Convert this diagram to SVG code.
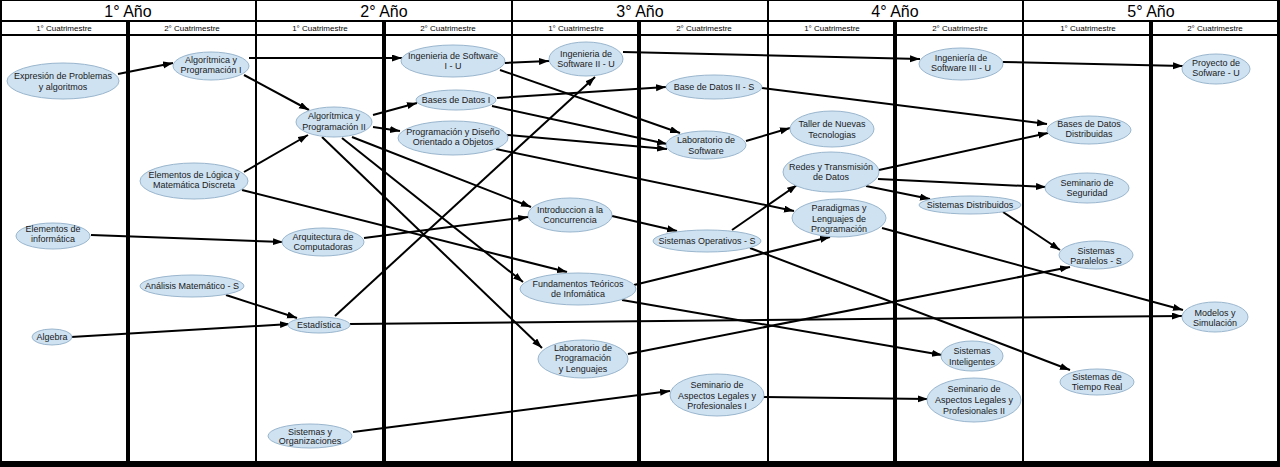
<svg xmlns="http://www.w3.org/2000/svg" width="1280" height="467" viewBox="0 0 1280 467">
<defs>
<marker id="arr" markerUnits="userSpaceOnUse" markerWidth="11" markerHeight="8" refX="10" refY="3.5" orient="auto">
<path d="M0,0 L10,3.5 L0,7 z" fill="#000"/>
</marker>
<style>
.grid{stroke:#000;fill:none}
.yr{font-family:"Liberation Sans",Arial,sans-serif;font-size:16px;fill:#000;text-anchor:middle}
.sem{font-family:"Liberation Sans",Arial,sans-serif;font-size:8px;fill:#000;text-anchor:middle}
.node ellipse{fill:#cfe2f2;stroke:#9ab6cd;stroke-width:1}
.node text{font-family:"Liberation Sans",Arial,sans-serif;font-size:9px;fill:#1a1a1a;text-anchor:middle}
#connectors line{stroke:#000;stroke-width:2;marker-end:url(#arr)}
</style>
</defs>
<rect x="0" y="0" width="1280" height="467" fill="#fff"/>
<g id="grid" class="grid">
<line x1="0" y1="0.5" x2="1280" y2="0.5" stroke-width="1"/>
<line x1="0" y1="21" x2="1280" y2="21" stroke-width="2"/>
<line x1="0" y1="35" x2="1280" y2="35" stroke-width="2"/>
<line x1="1" y1="0" x2="1" y2="462" stroke-width="2"/>
<line x1="256" y1="0" x2="256" y2="462" stroke-width="2"/>
<line x1="512" y1="0" x2="512" y2="462" stroke-width="2"/>
<line x1="768" y1="0" x2="768" y2="462" stroke-width="2"/>
<line x1="1023" y1="0" x2="1023" y2="462" stroke-width="2"/>
<line x1="1278.5" y1="0" x2="1278.5" y2="462" stroke-width="3"/>
<line x1="128" y1="21" x2="128" y2="462" stroke-width="4"/>
<line x1="384" y1="21" x2="384" y2="462" stroke-width="4"/>
<line x1="639" y1="21" x2="639" y2="462" stroke-width="4"/>
<line x1="895" y1="21" x2="895" y2="462" stroke-width="4"/>
<line x1="1151" y1="21" x2="1151" y2="462" stroke-width="4"/>
<rect x="0" y="461" width="1280" height="6" fill="#000" stroke="none"/>
</g>
<g id="headers">
<text class="yr" x="128" y="17">1° Año</text>
<text class="yr" x="384" y="17">2° Año</text>
<text class="yr" x="640" y="17">3° Año</text>
<text class="yr" x="895" y="17">4° Año</text>
<text class="yr" x="1151" y="17">5° Año</text>
<text class="sem" x="64" y="31">1° Cuatrimestre</text>
<text class="sem" x="192" y="31">2° Cuatrimestre</text>
<text class="sem" x="320" y="31">1° Cuatrimestre</text>
<text class="sem" x="448" y="31">2° Cuatrimestre</text>
<text class="sem" x="576" y="31">1° Cuatrimestre</text>
<text class="sem" x="704" y="31">2° Cuatrimestre</text>
<text class="sem" x="832" y="31">1° Cuatrimestre</text>
<text class="sem" x="960" y="31">2° Cuatrimestre</text>
<text class="sem" x="1088" y="31">1° Cuatrimestre</text>
<text class="sem" x="1215" y="31">2° Cuatrimestre</text>
</g>
<g id="connectors">
<line x1="118" y1="74" x2="173" y2="63"/>
<line x1="249" y1="58" x2="402" y2="58"/>
<line x1="244" y1="75" x2="309" y2="110"/>
<line x1="244" y1="172" x2="308" y2="135"/>
<line x1="242" y1="190" x2="567" y2="272"/>
<line x1="91" y1="235" x2="283" y2="242"/>
<line x1="226" y1="295" x2="297" y2="318"/>
<line x1="71" y1="337" x2="290" y2="324"/>
<line x1="335" y1="316" x2="595" y2="77"/>
<line x1="350" y1="324" x2="1182" y2="316"/>
<line x1="353" y1="432" x2="670" y2="391"/>
<line x1="364" y1="238" x2="528" y2="217"/>
<line x1="373" y1="115" x2="417" y2="103"/>
<line x1="373" y1="127" x2="400" y2="131"/>
<line x1="352" y1="137" x2="531" y2="207"/>
<line x1="342" y1="138" x2="523" y2="282"/>
<line x1="322" y1="137" x2="542" y2="348"/>
<line x1="505" y1="63" x2="549" y2="61"/>
<line x1="500" y1="70" x2="680" y2="133"/>
<line x1="497" y1="98" x2="666" y2="87"/>
<line x1="492" y1="106" x2="667" y2="144"/>
<line x1="507" y1="135" x2="667" y2="149"/>
<line x1="496" y1="149" x2="794" y2="211"/>
<line x1="623" y1="52" x2="920" y2="59"/>
<line x1="762" y1="88" x2="1047" y2="124"/>
<line x1="746" y1="141" x2="790" y2="128"/>
<line x1="612" y1="216" x2="677" y2="231"/>
<line x1="634" y1="285" x2="830" y2="237"/>
<line x1="622" y1="300" x2="942" y2="355"/>
<line x1="628" y1="354" x2="1070" y2="267"/>
<line x1="764" y1="397" x2="928" y2="399"/>
<line x1="732" y1="230" x2="797" y2="185"/>
<line x1="750" y1="248" x2="1070" y2="370"/>
<line x1="882" y1="228" x2="1183" y2="310"/>
<line x1="879" y1="170" x2="1048" y2="133"/>
<line x1="878" y1="179" x2="1046" y2="187"/>
<line x1="866" y1="186" x2="930" y2="199"/>
<line x1="1003" y1="212" x2="1060" y2="250"/>
<line x1="1003" y1="62" x2="1183" y2="66"/>
</g>
<g id="n1" class="node"><ellipse cx="63" cy="81" rx="56" ry="18"/><text x="63" y="79">Expresión de Problemas</text><text x="63" y="90">y algoritmos</text></g>
<g id="n2" class="node"><ellipse cx="211" cy="66" rx="38" ry="14"/><text x="211" y="63">Algorítmica y</text><text x="211" y="73">Programación I</text></g>
<g id="n3" class="node"><ellipse cx="194" cy="181" rx="54" ry="18"/><text x="194" y="178">Elementos de Lógica y</text><text x="194" y="188">Matemática Discreta</text></g>
<g id="n4" class="node"><ellipse cx="53" cy="236" rx="37" ry="13"/><text x="53" y="232">Elementos de</text><text x="53" y="242">informática</text></g>
<g id="n5" class="node"><ellipse cx="192" cy="286" rx="52" ry="11"/><text x="192" y="289">Análisis Matemático - S</text></g>
<g id="n6" class="node"><ellipse cx="52" cy="337" rx="20" ry="8"/><text x="52" y="340">Algebra</text></g>
<g id="n7" class="node"><ellipse cx="323" cy="242" rx="41" ry="14"/><text x="323" y="240">Arquitectura de</text><text x="323" y="250">Computadoras</text></g>
<g id="n8" class="node"><ellipse cx="319" cy="325" rx="31" ry="8"/><text x="319" y="328">Estadística</text></g>
<g id="n9" class="node"><ellipse cx="310" cy="436" rx="42" ry="12"/><text x="310" y="435">Sistemas y</text><text x="310" y="444">Organizaciones</text></g>
<g id="n10" class="node"><ellipse cx="334" cy="122" rx="38" ry="15"/><text x="334" y="119">Algorítmica y</text><text x="334" y="130">Programación II</text></g>
<g id="n11" class="node"><ellipse cx="453" cy="61" rx="52" ry="16"/><text x="453" y="59">Ingenieria de Software</text><text x="453" y="69">I - U</text></g>
<g id="n12" class="node"><ellipse cx="456" cy="100" rx="40" ry="10"/><text x="456" y="103">Bases de Datos I</text></g>
<g id="n13" class="node"><ellipse cx="453" cy="138" rx="55" ry="17"/><text x="453" y="135">Programación y Diseño</text><text x="453" y="145">Orientado a Objetos</text></g>
<g id="n14" class="node"><ellipse cx="586" cy="59" rx="37" ry="17"/><text x="586" y="57">Ingenieria de</text><text x="586" y="67">Software II - U</text></g>
<g id="n15" class="node"><ellipse cx="570" cy="215" rx="42" ry="17"/><text x="570" y="213">Introduccion a la</text><text x="570" y="223">Concurrencia</text></g>
<g id="n16" class="node"><ellipse cx="578" cy="289" rx="58" ry="16"/><text x="578" y="287">Fundamentos Teóricos</text><text x="578" y="297">de Infomática</text></g>
<g id="n17" class="node"><ellipse cx="583" cy="359" rx="45" ry="19"/><text x="583" y="351">Laboratorio de</text><text x="583" y="361">Programación</text><text x="583" y="372">y Lenguajes</text></g>
<g id="n18" class="node"><ellipse cx="714" cy="87" rx="48" ry="12"/><text x="714" y="90">Base de Datos II - S</text></g>
<g id="n19" class="node"><ellipse cx="706" cy="145" rx="40" ry="14"/><text x="706" y="143">Laboratorio de</text><text x="706" y="154">Software</text></g>
<g id="n20" class="node"><ellipse cx="707" cy="241" rx="54" ry="11"/><text x="707" y="244">Sistemas Operativos - S</text></g>
<g id="n21" class="node"><ellipse cx="717" cy="395" rx="47" ry="21"/><text x="717" y="388">Seminario de</text><text x="717" y="399">Aspectos Legales y</text><text x="717" y="409">Profesionales I</text></g>
<g id="n22" class="node"><ellipse cx="832" cy="129" rx="42" ry="18"/><text x="832" y="127">Taller de Nuevas</text><text x="832" y="138">Tecnologias</text></g>
<g id="n23" class="node"><ellipse cx="831" cy="172" rx="48" ry="20"/><text x="831" y="170">Redes y Transmisión</text><text x="831" y="180">de Datos</text></g>
<g id="n24" class="node"><ellipse cx="839" cy="218" rx="47" ry="19"/><text x="839" y="211">Paradigmas y</text><text x="839" y="222">Lenguajes de</text><text x="839" y="232">Programación</text></g>
<g id="n25" class="node"><ellipse cx="961" cy="64" rx="42" ry="16"/><text x="961" y="61">Ingeniería de</text><text x="961" y="71">Software III - U</text></g>
<g id="n26" class="node"><ellipse cx="970" cy="205" rx="51" ry="9"/><text x="970" y="208">Sistemas Distribuidos</text></g>
<g id="n27" class="node"><ellipse cx="972" cy="356" rx="31" ry="15"/><text x="972" y="354">Sistemas</text><text x="972" y="365">Inteligentes</text></g>
<g id="n28" class="node"><ellipse cx="974" cy="400" rx="47" ry="22"/><text x="974" y="392">Seminario de</text><text x="974" y="403">Aspectos Legales y</text><text x="974" y="414">Profesionales II</text></g>
<g id="n29" class="node"><ellipse cx="1216" cy="69" rx="34" ry="15"/><text x="1216" y="66">Proyecto de</text><text x="1216" y="76">Sofware - U</text></g>
<g id="n30" class="node"><ellipse cx="1089" cy="130" rx="42" ry="14"/><text x="1089" y="127">Bases de Datos</text><text x="1089" y="137">Distribuidas</text></g>
<g id="n31" class="node"><ellipse cx="1087" cy="188" rx="42" ry="15"/><text x="1087" y="186">Seminario de</text><text x="1087" y="196">Seguridad</text></g>
<g id="n32" class="node"><ellipse cx="1096" cy="255" rx="37" ry="14"/><text x="1096" y="254">Sistemas</text><text x="1096" y="264">Paralelos - S</text></g>
<g id="n33" class="node"><ellipse cx="1215" cy="317" rx="33" ry="15"/><text x="1215" y="316">Modelos y</text><text x="1215" y="326">Simulación</text></g>
<g id="n34" class="node"><ellipse cx="1097" cy="382" rx="37" ry="13"/><text x="1097" y="380">Sistemas de</text><text x="1097" y="390">Tiempo Real</text></g>
</svg>
